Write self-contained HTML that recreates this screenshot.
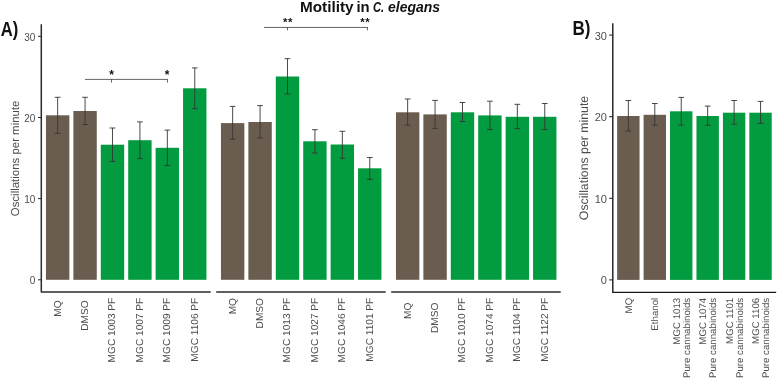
<!DOCTYPE html>
<html><head><meta charset="utf-8"><title>Motility in C. elegans</title>
<style>
html,body{margin:0;padding:0;background:#fff;}
svg{display:block;}
text{font-family:"Liberation Sans",Arial,sans-serif;}
.r{text-rendering:geometricPrecision;}
</style></head><body>
<svg width="777" height="378" viewBox="0 0 777 378">
<rect width="777" height="378" fill="#ffffff"/>
<rect x="45.95" y="115.30" width="23.40" height="164.50" fill="#6b5c50"/>
<rect x="73.37" y="111.00" width="23.40" height="168.80" fill="#6b5c50"/>
<rect x="100.79" y="144.70" width="23.40" height="135.10" fill="#039b40"/>
<rect x="128.21" y="140.20" width="23.40" height="139.60" fill="#039b40"/>
<rect x="155.63" y="147.80" width="23.40" height="132.00" fill="#039b40"/>
<rect x="183.05" y="88.30" width="23.40" height="191.50" fill="#039b40"/>
<path d="M57.65 97.30V133.30M54.80 97.30h5.7M54.80 133.30h5.7" stroke="#363636" stroke-width="0.9" fill="none"/>
<path d="M85.07 97.30V124.50M82.22 97.30h5.7M82.22 124.50h5.7" stroke="#363636" stroke-width="0.9" fill="none"/>
<path d="M112.49 128.00V161.40M109.64 128.00h5.7M109.64 161.40h5.7" stroke="#363636" stroke-width="0.9" fill="none"/>
<path d="M139.91 121.90V158.50M137.06 121.90h5.7M137.06 158.50h5.7" stroke="#363636" stroke-width="0.9" fill="none"/>
<path d="M167.33 130.10V165.50M164.48 130.10h5.7M164.48 165.50h5.7" stroke="#363636" stroke-width="0.9" fill="none"/>
<path d="M194.75 67.90V108.70M191.90 67.90h5.7M191.90 108.70h5.7" stroke="#363636" stroke-width="0.9" fill="none"/>
<path d="M41.3 24.3V291.95H210.70" stroke="#2b2b2b" stroke-width="1.5" stroke-linejoin="round" fill="none"/>
<text transform="translate(60.75 300.45) rotate(-90)" class="r" text-anchor="end" font-size="10.15" fill="#4d4d4d">MQ</text>
<text transform="translate(88.17 300.45) rotate(-90)" class="r" text-anchor="end" font-size="10.15" fill="#4d4d4d">DMSO</text>
<text transform="translate(115.29 297.70) rotate(-90)" class="r" text-anchor="end" font-size="10.15" fill="#4d4d4d">MGC 1003 PF</text>
<text transform="translate(142.71 297.70) rotate(-90)" class="r" text-anchor="end" font-size="10.15" fill="#4d4d4d">MGC 1007 PF</text>
<text transform="translate(170.13 297.70) rotate(-90)" class="r" text-anchor="end" font-size="10.15" fill="#4d4d4d">MGC 1009 PF</text>
<text transform="translate(197.55 297.70) rotate(-90)" class="r" text-anchor="end" font-size="10.15" fill="#4d4d4d">MGC 1106 PF</text>
<rect x="220.95" y="123.10" width="23.40" height="156.70" fill="#6b5c50"/>
<rect x="248.37" y="122.00" width="23.40" height="157.80" fill="#6b5c50"/>
<rect x="275.79" y="76.50" width="23.40" height="203.30" fill="#039b40"/>
<rect x="303.21" y="141.30" width="23.40" height="138.50" fill="#039b40"/>
<rect x="330.63" y="144.50" width="23.40" height="135.30" fill="#039b40"/>
<rect x="358.05" y="168.30" width="23.40" height="111.50" fill="#039b40"/>
<path d="M232.65 106.40V139.20M229.80 106.40h5.7M229.80 139.20h5.7" stroke="#363636" stroke-width="0.9" fill="none"/>
<path d="M260.07 105.60V138.10M257.22 105.60h5.7M257.22 138.10h5.7" stroke="#363636" stroke-width="0.9" fill="none"/>
<path d="M287.49 58.70V94.00M284.64 58.70h5.7M284.64 94.00h5.7" stroke="#363636" stroke-width="0.9" fill="none"/>
<path d="M314.91 129.70V153.00M312.06 129.70h5.7M312.06 153.00h5.7" stroke="#363636" stroke-width="0.9" fill="none"/>
<path d="M342.33 131.30V158.30M339.48 131.30h5.7M339.48 158.30h5.7" stroke="#363636" stroke-width="0.9" fill="none"/>
<path d="M369.75 157.50V179.40M366.90 157.50h5.7M366.90 179.40h5.7" stroke="#363636" stroke-width="0.9" fill="none"/>
<path d="M216.20 291.95H385.70" stroke="#2b2b2b" stroke-width="1.5" fill="none"/>
<text transform="translate(235.75 298.00) rotate(-90)" class="r" text-anchor="end" font-size="10.15" fill="#4d4d4d">MQ</text>
<text transform="translate(263.17 298.00) rotate(-90)" class="r" text-anchor="end" font-size="10.15" fill="#4d4d4d">DMSO</text>
<text transform="translate(290.29 297.70) rotate(-90)" class="r" text-anchor="end" font-size="10.15" fill="#4d4d4d">MGC 1013 PF</text>
<text transform="translate(317.71 297.70) rotate(-90)" class="r" text-anchor="end" font-size="10.15" fill="#4d4d4d">MGC 1027 PF</text>
<text transform="translate(345.13 297.70) rotate(-90)" class="r" text-anchor="end" font-size="10.15" fill="#4d4d4d">MGC 1046 PF</text>
<text transform="translate(372.55 297.70) rotate(-90)" class="r" text-anchor="end" font-size="10.15" fill="#4d4d4d">MGC 1101 PF</text>
<rect x="395.95" y="112.30" width="23.40" height="167.50" fill="#6b5c50"/>
<rect x="423.37" y="114.40" width="23.40" height="165.40" fill="#6b5c50"/>
<rect x="450.79" y="112.30" width="23.40" height="167.50" fill="#039b40"/>
<rect x="478.21" y="115.40" width="23.40" height="164.40" fill="#039b40"/>
<rect x="505.63" y="116.80" width="23.40" height="163.00" fill="#039b40"/>
<rect x="533.05" y="116.80" width="23.40" height="163.00" fill="#039b40"/>
<path d="M407.65 99.00V125.20M404.80 99.00h5.7M404.80 125.20h5.7" stroke="#363636" stroke-width="0.9" fill="none"/>
<path d="M435.07 100.40V128.40M432.22 100.40h5.7M432.22 128.40h5.7" stroke="#363636" stroke-width="0.9" fill="none"/>
<path d="M462.49 102.50V121.50M459.64 102.50h5.7M459.64 121.50h5.7" stroke="#363636" stroke-width="0.9" fill="none"/>
<path d="M489.91 101.20V129.50M487.06 101.20h5.7M487.06 129.50h5.7" stroke="#363636" stroke-width="0.9" fill="none"/>
<path d="M517.33 104.30V128.70M514.48 104.30h5.7M514.48 128.70h5.7" stroke="#363636" stroke-width="0.9" fill="none"/>
<path d="M544.75 103.50V129.50M541.90 103.50h5.7M541.90 129.50h5.7" stroke="#363636" stroke-width="0.9" fill="none"/>
<path d="M391.20 291.95H560.70" stroke="#2b2b2b" stroke-width="1.5" fill="none"/>
<text transform="translate(410.75 302.60) rotate(-90)" class="r" text-anchor="end" font-size="10.15" fill="#4d4d4d">MQ</text>
<text transform="translate(438.17 302.60) rotate(-90)" class="r" text-anchor="end" font-size="10.15" fill="#4d4d4d">DMSO</text>
<text transform="translate(465.29 297.70) rotate(-90)" class="r" text-anchor="end" font-size="10.15" fill="#4d4d4d">MGC 1010 PF</text>
<text transform="translate(492.71 297.70) rotate(-90)" class="r" text-anchor="end" font-size="10.15" fill="#4d4d4d">MGC 1074 PF</text>
<text transform="translate(520.13 297.70) rotate(-90)" class="r" text-anchor="end" font-size="10.15" fill="#4d4d4d">MGC 1104 PF</text>
<text transform="translate(547.55 297.70) rotate(-90)" class="r" text-anchor="end" font-size="10.15" fill="#4d4d4d">MGC 1122 PF</text>
<path d="M38 36.3H41.3" stroke="#2b2b2b" stroke-width="1"/>
<text x="35.3" y="40.60" text-anchor="end" font-size="10" fill="#4d4d4d">30</text>
<path d="M38 117.5H41.3" stroke="#2b2b2b" stroke-width="1"/>
<text x="35.3" y="121.80" text-anchor="end" font-size="10" fill="#4d4d4d">20</text>
<path d="M38 198.6H41.3" stroke="#2b2b2b" stroke-width="1"/>
<text x="35.3" y="202.90" text-anchor="end" font-size="10" fill="#4d4d4d">10</text>
<path d="M38 279.8H41.3" stroke="#2b2b2b" stroke-width="1"/>
<text x="35.3" y="284.10" text-anchor="end" font-size="10" fill="#4d4d4d">0</text>
<text transform="translate(19 158.4) rotate(-90)" class="r" text-anchor="middle" font-size="11.45" fill="#4d4d4d">Oscillations per minute</text>
<text x="0.8" y="35.5" font-size="19.5" font-weight="bold" fill="#111" textLength="17.5" lengthAdjust="spacingAndGlyphs">A)</text>
<path d="M85 79.4H167.8M111.5 79.4v3.2M167.5 79.4v3.2" stroke="#222" stroke-width="0.7" fill="none"/>
<text x="111.7" y="78.9" text-anchor="middle" font-size="12" font-weight="bold" fill="#111">*</text>
<text x="167.2" y="78.9" text-anchor="middle" font-size="12" font-weight="bold" fill="#111">*</text>
<path d="M264 27.45H367.8M287.5 27.45v2.9M367.45 27.45v2.9" stroke="#222" stroke-width="0.7" fill="none"/>
<text x="287.95" y="25.6" text-anchor="middle" font-size="11.4" font-weight="bold" fill="#111" letter-spacing="0.5">**</text>
<text x="365.15" y="25.6" text-anchor="middle" font-size="11.4" font-weight="bold" fill="#111" letter-spacing="0.5">**</text>
<text x="300.0" y="11.7" font-size="13.8" font-weight="bold" fill="#111" textLength="53.6" lengthAdjust="spacingAndGlyphs">Motility</text>
<text x="356.4" y="11.7" font-size="13.8" font-weight="bold" fill="#111" textLength="13.2" lengthAdjust="spacingAndGlyphs">in</text>
<text x="373.0" y="11.7" font-size="13.8" font-weight="bold" font-style="italic" fill="#111" textLength="11.2" lengthAdjust="spacingAndGlyphs">C.</text>
<text x="388.0" y="11.7" font-size="13.8" font-weight="bold" font-style="italic" fill="#111" textLength="52.0" lengthAdjust="spacingAndGlyphs">elegans</text>
<rect x="617.15" y="116.00" width="22.40" height="163.90" fill="#6b5c50"/>
<rect x="643.59" y="114.80" width="22.40" height="165.10" fill="#6b5c50"/>
<rect x="670.03" y="111.30" width="22.40" height="168.60" fill="#039b40"/>
<rect x="696.47" y="116.00" width="22.40" height="163.90" fill="#039b40"/>
<rect x="722.91" y="112.70" width="22.40" height="167.20" fill="#039b40"/>
<rect x="749.35" y="112.70" width="22.40" height="167.20" fill="#039b40"/>
<path d="M628.35 100.50V131.10M625.50 100.50h5.7M625.50 131.10h5.7" stroke="#363636" stroke-width="0.9" fill="none"/>
<path d="M654.79 103.50V125.20M651.94 103.50h5.7M651.94 125.20h5.7" stroke="#363636" stroke-width="0.9" fill="none"/>
<path d="M681.23 97.40V125.20M678.38 97.40h5.7M678.38 125.20h5.7" stroke="#363636" stroke-width="0.9" fill="none"/>
<path d="M707.67 106.10V125.20M704.82 106.10h5.7M704.82 125.20h5.7" stroke="#363636" stroke-width="0.9" fill="none"/>
<path d="M734.11 100.50V124.20M731.26 100.50h5.7M731.26 124.20h5.7" stroke="#363636" stroke-width="0.9" fill="none"/>
<path d="M760.55 101.40V123.30M757.70 101.40h5.7M757.70 123.30h5.7" stroke="#363636" stroke-width="0.9" fill="none"/>
<path d="M612.8 23.2V292.4H776.2" stroke="#1a1a1a" stroke-width="1.4" stroke-linejoin="round" fill="none"/>
<path d="M609.2 35.1H612.6" stroke="#1a1a1a" stroke-width="1"/>
<text x="606.9" y="39.50" text-anchor="end" font-size="11" fill="#4d4d4d">30</text>
<path d="M609.2 116.7H612.6" stroke="#1a1a1a" stroke-width="1"/>
<text x="606.9" y="121.10" text-anchor="end" font-size="11" fill="#4d4d4d">20</text>
<path d="M609.2 198.3H612.6" stroke="#1a1a1a" stroke-width="1"/>
<text x="606.9" y="202.70" text-anchor="end" font-size="11" fill="#4d4d4d">10</text>
<path d="M609.2 279.9H612.6" stroke="#1a1a1a" stroke-width="1"/>
<text x="606.9" y="284.30" text-anchor="end" font-size="11" fill="#4d4d4d">0</text>
<text transform="translate(588 158) rotate(-90)" class="r" text-anchor="middle" font-size="12.3" fill="#4d4d4d">Oscillations per minute</text>
<text x="572.4" y="35.4" font-size="19.5" font-weight="bold" fill="#111" textLength="18" lengthAdjust="spacingAndGlyphs">B)</text>
<text transform="translate(631.75 297.8) rotate(-90)" class="r" text-anchor="end" font-size="9.7" fill="#4d4d4d">MQ</text>
<text transform="translate(658.19 297.8) rotate(-90)" class="r" text-anchor="end" font-size="9.7" fill="#4d4d4d">Ethanol</text>
<text transform="translate(679.83 297.8) rotate(-90)" class="r" text-anchor="end" font-size="9.7" fill="#4d4d4d">MGC 1013</text>
<text transform="translate(689.63 297.8) rotate(-90)" class="r" text-anchor="end" font-size="9.7" fill="#4d4d4d">Pure cannabinoids</text>
<text transform="translate(706.27 297.8) rotate(-90)" class="r" text-anchor="end" font-size="9.7" fill="#4d4d4d">MGC 1074</text>
<text transform="translate(716.07 297.8) rotate(-90)" class="r" text-anchor="end" font-size="9.7" fill="#4d4d4d">Pure cannabinoids</text>
<text transform="translate(732.71 297.8) rotate(-90)" class="r" text-anchor="end" font-size="9.7" fill="#4d4d4d">MGC 1101</text>
<text transform="translate(742.51 297.8) rotate(-90)" class="r" text-anchor="end" font-size="9.7" fill="#4d4d4d">Pure cannabinoids</text>
<text transform="translate(759.15 297.8) rotate(-90)" class="r" text-anchor="end" font-size="9.7" fill="#4d4d4d">MGC 1106</text>
<text transform="translate(768.95 297.8) rotate(-90)" class="r" text-anchor="end" font-size="9.7" fill="#4d4d4d">Pure cannabinoids</text>
</svg></body></html>
